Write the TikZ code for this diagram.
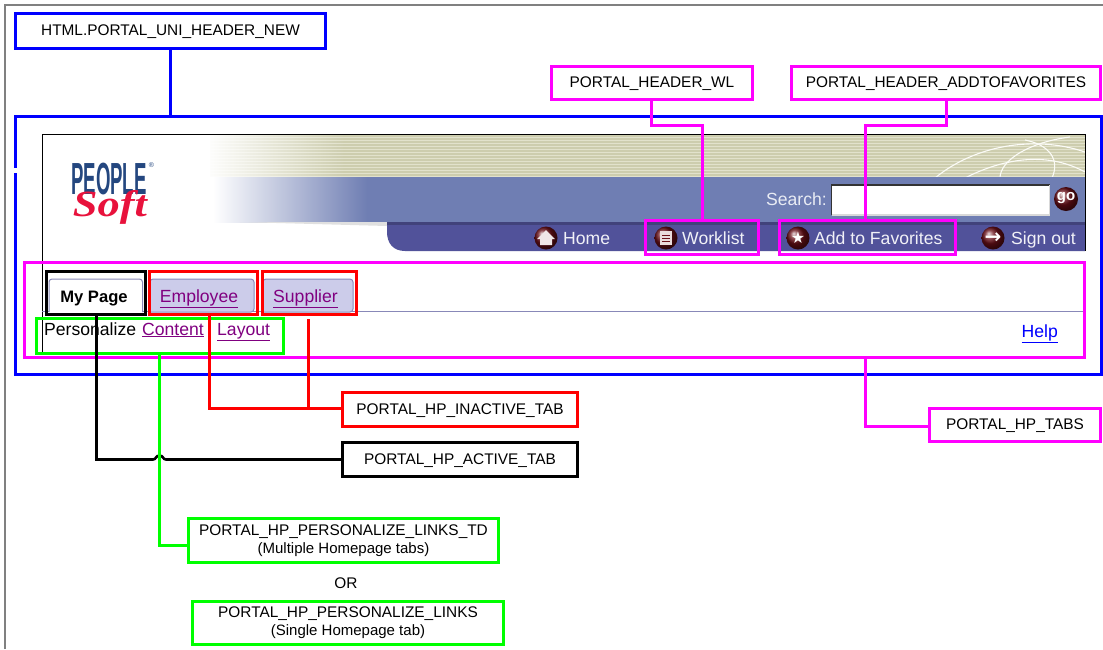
\documentclass[tikz,border=0pt]{standalone}
\usepackage{fontspec}
\setmainfont{Liberation Sans}
\newfontfamily\symfont{DejaVu Sans}
\newfontfamily\logofont{Liberation Serif}
\usetikzlibrary{calc, fadings}
\definecolor{framegray}{HTML}{808080}
\definecolor{pfblue}{HTML}{0000FF}
\definecolor{pfpink}{HTML}{FF00FF}
\definecolor{pfred}{HTML}{FF0000}
\definecolor{pfgreen}{HTML}{00FF00}
\definecolor{bandkhaki}{HTML}{E2E2CC}
\definecolor{bandline}{HTML}{CDCDAE}
\definecolor{bandblue}{HTML}{6F7EB3}
\definecolor{bandnavy}{HTML}{51529A}
\definecolor{tabfill}{HTML}{CCCCEA}
\definecolor{tabline}{HTML}{8888B8}
\definecolor{iconred}{HTML}{6A0F18}
\definecolor{linkpurple}{HTML}{800080}
\definecolor{logonavy}{HTML}{24477F}
\definecolor{logored}{HTML}{E8123C}
\newcommand{\sublblfont}{\fontsize{15}{17}\selectfont}
\tikzset{
    regionbox/.style={draw, line width=2.6pt, inner sep=0pt, outer sep=0pt, anchor=north west},
    conn/.style={line width=2.6pt},
    lbl/.style={font=\fontsize{15.4}{18}\selectfont, align=center},
    onelbl/.style={lbl, text height=13pt},
    webtxt/.style={font=\fontsize{17.6}{20}\selectfont, inner sep=0pt, anchor=base},
    navtxt/.style={webtxt, text=white!92!bandnavy, anchor=base west},
    navicon/.style={ball color=iconred},
    globeline/.style={draw=white!85!bandkhaki, line width=1.1pt},
    tabshape/.style={draw=tabline, line width=1pt},
}
\begin{document}
\begin{tikzpicture}[x=1pt, y=-1pt]
    \useasboundingbox (0, 0) rectangle (1103, 649);
    % outer frame
    \draw[framegray, line width=2pt] (5, 649) -- (5, 5) -- (1103, 5);

    % banner
    \foreach \y in {135, 138, ..., 175} {
        \fill[bandline] (210, \y) rectangle (1085, \y + 2);
        \fill[bandkhaki] (210, \y + 2) rectangle (1085, \y + 3);
    }
    \fill[white, path fading=east] (205, 134) rectangle (345, 178);
    \draw[globeline] (935, 178) .. controls (975, 145) and (1035, 135) .. (1085, 152);
    \draw[globeline] (965, 178) .. controls (1000, 160) and (1045, 150) .. (1085, 172);
    \draw[globeline] (1052, 178) .. controls (1060, 160) and (1050, 145) .. (1025, 140);
    \draw[globeline] (1000, 178) .. controls (1000, 160) and (1030, 142) .. (1070, 137);
    \shade[left color=white, right color=bandblue] (213, 177) rectangle (367, 222);
    \fill[bandblue] (366.5, 177) rectangle (1085, 222);
    \fill[black!12] (240, 222) -- (387, 222) -- (387, 226) -- cycle;
    \fill[bandnavy] (387, 222) -- (1085, 222) -- (1085, 251) -- (405, 251)
        .. controls (393, 251) and (387, 243) .. (387, 232) -- cycle;
    \fill[bandnavy!80!black] (387, 222) rectangle (1085, 224.5);
    \draw[black, line width=1pt] (42.5, 355) -- (42.5, 134.5) -- (1085, 134.5) -- (1085, 251);

    % logo
    \node[inner sep=0pt, text=logonavy, font=\bfseries\fontsize{30}{30}\selectfont, xscale=.62, yscale=1.5] (logopeople) at (109, 179) {PEOPLE};
    \node[inner sep=0pt, text=logonavy, font=\fontsize{7}{7}\selectfont] (logomark) at (151.5, 165) {®};
    \node[inner sep=0pt, text=logored, font=\logofont\bfseries\itshape\fontsize{37}{37}\selectfont, xscale=1.2] (logosoft) at (110, 207) {Soft};

    % search row
    \node[navtxt, anchor=base east, text=white!85!bandblue] (searchtxt) at (827, 205) {Search:};
    \node[fill=white, minimum width=218pt, minimum height=30pt, inner sep=0pt, outer sep=0pt, anchor=north west] (searchfield) at (831.5, 185) {};
    \draw[black!80, line width=1.6pt] (searchfield.south west) -- (searchfield.north west) -- (searchfield.north east);
    \draw[black!15, line width=1.4pt] (searchfield.south west) -- (searchfield.south east) -- (searchfield.north east);
    \shade[navicon] (1066, 199) circle [radius=12];
    \node[inner sep=0pt, text=white, font=\bfseries\fontsize{15}{15}\selectfont] (gotxt) at (1066, 198) {go};

    % nav row
    \shade[navicon] (546, 238) circle [radius=11.5];
    \fill[white!90!iconred] (546, 230) -- (555, 239) -- (552, 239) -- (552, 245) -- (540, 245) -- (540, 239) -- (537, 239) -- cycle;
    \node[navtxt] (hometxt) at (563, 244) {Home};
    \shade[navicon] (666, 238) circle [radius=11.5];
    \fill[white!85!iconred] (660, 231) rectangle (672, 245);
    \draw[iconred, line width=.8pt] (662, 235) -- (670, 235) (662, 238) -- (670, 238) (662, 241) -- (670, 241);
    \node[navtxt] (worklisttxt) at (682, 244) {Worklist};
    \shade[navicon] (798, 238) circle [radius=11.5];
    \node[inner sep=0pt, text=white, font=\symfont\fontsize{16}{16}\selectfont] (favstar) at (798, 238) {★};
    \node[navtxt] (favtxt) at (814, 244) {Add to Favorites};
    \shade[navicon] (993, 238) circle [radius=11.5];
    \node[inner sep=0pt, text=white, font=\symfont\bfseries\fontsize{20}{20}\selectfont] (outarrow) at (993, 238) {→};
    \node[navtxt] (signtxt) at (1011, 244) {Sign out};

    % tabs
    \draw[tabline, line width=1pt] (42, 311) -- (1085, 311);
    \draw[tabshape, fill=white] (49, 312) [rounded corners=3pt] -- (49, 279) -- (142.5, 279) -- (142.5, 312);
    \draw[tabshape, fill=tabfill] (150, 312) [rounded corners=3pt] -- (150, 279) -- (254, 279) -- (254, 312) [sharp corners] -- cycle;
    \draw[tabshape, fill=tabfill] (263, 312) [rounded corners=3pt] -- (263, 279) -- (353, 279) -- (353, 312) [sharp corners] -- cycle;
    \node[webtxt, font=\bfseries\fontsize{16.6}{20}\selectfont] (mypagetxt) at (94, 302) {My Page};
    \node[webtxt, text=linkpurple] (employeetxt) at (199, 302) {\underline{Employee}};
    \node[webtxt, text=linkpurple] (suppliertxt) at (305.5, 302) {\underline{Supplier}};

    % links
    \node[webtxt, anchor=base west] (perstxt) at (44, 335) {Personalize};
    \node[webtxt, anchor=base west, text=linkpurple] (contenttxt) at (142, 335) {\underline{Content}};
    \node[webtxt, anchor=base west, text=linkpurple] (layouttxt) at (217, 335) {\underline{Layout}};
    \node[webtxt, anchor=base east, text=blue] (helptxt) at (1058, 337) {\underline{Help}};

    % outlined regions
    \node[regionbox, pfblue, minimum width=1086pt, minimum height=258pt] (unibox) at (15.5, 116.5) {};
    \fill[white] (13, 168) rectangle (19, 172.5);
    \node[regionbox, pfpink, minimum width=1060pt, minimum height=95pt] (tabsbox) at (24.5, 262.5) {};
    \node[regionbox, pfpink, minimum width=113pt, minimum height=34pt] (wlbox) at (645.5, 220.5) {};
    \node[regionbox, pfpink, minimum width=176pt, minimum height=34pt] (favbox) at (779.5, 220.5) {};
    \node[regionbox, black, minimum width=99pt, minimum height=43pt] (activebox) at (46.5, 271.5) {};
    \node[regionbox, pfred, minimum width=108pt, minimum height=43pt] (emplbox) at (149.5, 271.5) {};
    \node[regionbox, pfred, minimum width=94pt, minimum height=43pt] (supplbox) at (262.5, 271.5) {};
    \node[regionbox, pfgreen, minimum width=247pt, minimum height=35pt] (linksbox) at (36.5, 318.5) {};

    % labels
    \node[regionbox, pfblue, onelbl, text=black, minimum width=310pt, minimum height=35pt] (unilbl) at (15.5, 13.5) {HTML.PORTAL\_UNI\_HEADER\_NEW};
    \node[regionbox, pfpink, onelbl, text=black, minimum width=201pt, minimum height=33pt] (wllbl) at (551.5, 66.5) {PORTAL\_HEADER\_WL};
    \node[regionbox, pfpink, onelbl, text=black, minimum width=309pt, minimum height=33pt] (favlbl) at (791.5, 66.5) {PORTAL\_HEADER\_ADDTOFAVORITES};
    \node[regionbox, pfpink, onelbl, text=black, minimum width=171pt, minimum height=33pt] (tabslbl) at (929.5, 408.5) {PORTAL\_HP\_TABS};
    \node[regionbox, pfred, onelbl, text=black, minimum width=235pt, minimum height=34pt] (inactlbl) at (342.5, 392.5) {PORTAL\_HP\_INACTIVE\_TAB};
    \node[regionbox, black, onelbl, minimum width=235pt, minimum height=34pt] (actlbl) at (342.5, 442.5) {PORTAL\_HP\_ACTIVE\_TAB};
    \node[regionbox, pfgreen, lbl, text=black, minimum width=310pt, minimum height=44pt] (tdlbl) at (188.5, 518.5) {PORTAL\_HP\_PERSONALIZE\_LINKS\_TD\\{\sublblfont (Multiple Homepage tabs)}};
    \node[lbl, inner sep=0pt] (ortxt) at (346, 583) {OR};
    \node[regionbox, pfgreen, lbl, text=black, minimum width=311pt, minimum height=43pt] (singlelbl) at (192.5, 601.5) {PORTAL\_HP\_PERSONALIZE\_LINKS\\{\sublblfont (Single Homepage tab)}};

    % connectors
    \draw[conn, pfblue] (unilbl.south) -- (unilbl.south |- unibox.north);
    \coordinate (wlturn) at (651.5, 125.5);
    \coordinate (wldrop) at (702.5, 125.5);
    \draw[conn, pfpink] (wlturn |- wllbl.south) -- (wlturn) -- (wldrop) -- (wldrop |- wlbox.north);
    \coordinate (favturn) at (946.5, 125.5);
    \coordinate (favdrop) at (865.5, 125.5);
    \draw[conn, pfpink] (favturn |- favlbl.south) -- (favturn) -- (favdrop) -- (favdrop |- favbox.north);
    \coordinate (tabsdrop) at (865.5, 426.5);
    \draw[conn, pfpink] (tabsdrop |- tabsbox.south) -- (tabsdrop) -- (tabslbl.west |- tabsdrop);
    \coordinate (emplturn) at (209.5, 408.5);
    \coordinate (supplturn) at (308.5, 408.5);
    \coordinate (supplstart) at (308.5, 319);
    \draw[conn, pfred] (emplturn |- emplbox.south) -- (emplturn) -- (inactlbl.west |- emplturn);
    \draw[conn, pfred] (supplstart) -- (supplturn);
    \coordinate (activeturn) at (96.5, 459.5);
    \coordinate (hopleft) at (153, 459.5);
    \coordinate (hopright) at (166, 459.5);
    \draw[conn] (activeturn |- activebox.south) -- (activeturn) -- (hopleft)
        .. controls (156, 459.5) and (156, 455.5) .. (159.5, 455.5)
        .. controls (163, 455.5) and (163, 459.5) .. (hopright) -- (actlbl.west);
    \coordinate (linksturn) at (159.5, 545.5);
    \draw[conn, pfgreen] (linksturn |- linksbox.south) -- (linksturn) -- (linksturn -| tdlbl.west);
\end{tikzpicture}
\end{document}
